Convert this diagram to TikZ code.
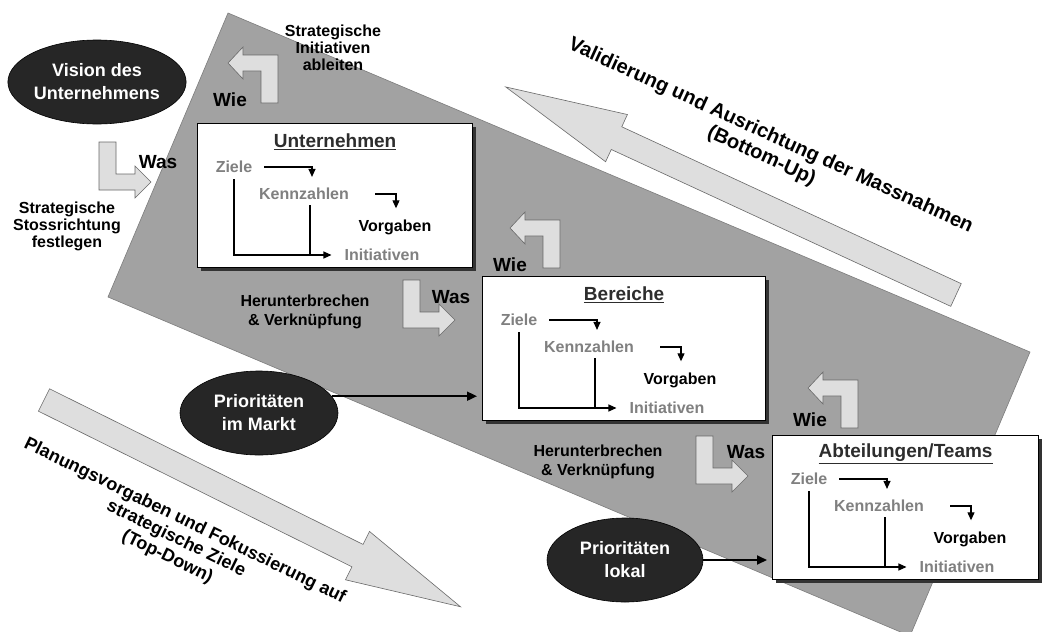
\documentclass[tikz,border=0pt]{standalone}
\usepackage{fontspec}
\setmainfont{Liberation Sans}
\usetikzlibrary{shapes.geometric,arrows.meta,shadows,calc}
\definecolor{bandgray}{RGB}{162,162,162}
\definecolor{bandedge}{RGB}{125,125,125}
\definecolor{arrowfill}{RGB}{222,222,222}
\definecolor{arrowedge}{RGB}{105,105,105}
\definecolor{ovalfill}{RGB}{38,38,38}
\definecolor{itemgray}{RGB}{128,128,128}
\definecolor{titlecol}{RGB}{45,45,45}
\tikzset{
  band/.style={fill=bandgray, draw=bandedge, line width=0.6pt},
  bigarrow/.style={fill=arrowfill, draw=arrowedge, line width=0.6pt},
  bentarrow/.style={fill=arrowfill, draw=arrowedge, line width=0.6pt},
  lbl/.style={align=center, inner sep=0pt, font=\bfseries\fontsize{16}{17}\selectfont},
  ww/.style={inner sep=0pt, font=\bfseries\fontsize{19}{21}\selectfont},
  bigtext/.style={align=center, inner sep=0pt, font=\bfseries\fontsize{20}{22}\selectfont},
  oval/.style={ellipse, fill=ovalfill, draw=black, line width=0.6pt, text=white, align=center, inner sep=0pt, font=\bfseries\fontsize{18}{23}\selectfont},
  lvbox/.style={draw=black, line width=1.2pt, fill=white, anchor=north west, minimum height=144, inner sep=0pt,
    general shadow={fill=black!80, shadow xshift=3pt, shadow yshift=-3pt}},
  boxtitle/.style={inner sep=1pt, text=titlecol, font=\bfseries\fontsize{19}{21}\selectfont},
  item/.style={inner sep=1pt, text=itemgray, font=\bfseries\fontsize{16}{18}\selectfont},
  innerarrow/.style={line width=1.1pt, -{Triangle[length=8pt,width=7pt]}},
  innerline/.style={line width=1.1pt},
  link/.style={line width=1.8pt, -{Triangle[length=10pt,width=9pt]}, shorten >=5pt}
}
\newcommand\levelbox[5]{%
  \node[lvbox, minimum width=#4] (#1) at (#2,#3) {};
  \node[boxtitle] (#1-t) at ($(#1.north)+(0,19)$) {\underline{#5}};
  \node[item] (#1-z) at ($(#1.north west)+(37,44)$) {Ziele};
  \node[item] (#1-k) at ($(#1.north west)+(107,71)$) {Kennzahlen};
  \node[item, text=black] (#1-v) at ($(#1.north west)+(198,104)$) {Vorgaben};
  \node[item] (#1-i) at ($(#1.north west)+(185,132)$) {Initiativen};
  \draw[innerarrow] ($(#1-z.east)+(11,0)$) -| ($(#1-k.north)+(8,-10)$);
  \draw[innerarrow] ($(#1-k.east)+(25,0)$) -| ($(#1-v.north)+(1,-10)$);
  \coordinate (#1-zd) at ($(#1-z.south)+(0,5)$);
  \coordinate (#1-kd) at ($(#1-k.south)+(6,4)$);
  \draw[innerarrow] (#1-zd) |- ($(#1-i.west)+(-12,0)$);
  \draw[innerline] (#1-kd) -- (#1-kd |- #1-i.west);
}
\newcommand\wieshape[1]{%
  \draw[bentarrow, shift={#1}] (0,16) -- (15,0) -- (15,8) -- (50,8) -- (50,56) -- (33,56) -- (33,24) -- (15,24) -- (15,32) -- cycle;}
\newcommand\wasshape[1]{%
  \draw[bentarrow, shift={#1}] (52,40) -- (36,56) -- (36,48) -- (0,48) -- (0,0) -- (17,0) -- (17,32) -- (36,32) -- (36,24) -- cycle;}
\begin{document}
\begin{tikzpicture}[x=1pt,y=-1pt]
\clip (0,0) rectangle (1042,632);
\fill[white] (0,0) rectangle (1042,632);
% grey band
\draw[band] (228,13) -- (1030,352) -- (910,636) -- (108,297) -- cycle;
% big arrows
\begin{scope}[shift={(956,295)}, rotate=155.2]
  \draw[bigarrow] (0,-12.5) -- (374,-12.5) -- (374,-26) -- (496,0) -- (374,26) -- (374,12.5) -- (0,12.5) -- cycle;
\end{scope}
\begin{scope}[shift={(44,400)}, rotate=-26.4]
  \draw[bigarrow] (0,-12.5) -- (350,-12.5) -- (350,-27) -- (465,0) -- (350,27) -- (350,12.5) -- (0,12.5) -- cycle;
\end{scope}
\node[bigtext, rotate=-24.6] (bu) at (766,146) {Validierung und Ausrichtung der Massnahmen\\(Bottom-Up)};
\node[bigtext, rotate=-26, font=\bfseries\fontsize{18}{20}\selectfont] (td) at (176,539) {Planungsvorgaben und Fokussierung auf\\strategische Ziele\\(Top-Down)};
% level boxes
\levelbox{u}{197}{123}{275}{Unternehmen}
\levelbox{b}{482}{276}{283}{Bereiche}
\levelbox{a}{772}{435}{266}{Abteilungen/Teams}
% bent arrows
\wieshape{(228,47)}
\wieshape{(510,212)}
\wieshape{(808,372)}
\wasshape{(99,142)}
\wasshape{(403,280)}
\wasshape{(696,436)}
% labels
\node[ww] (wie1) at (230,100) {Wie};
\node[ww] (wie2) at (510,265) {Wie};
\node[ww] (wie3) at (810,420) {Wie};
\node[ww] (was1) at (158,162) {Was};
\node[ww] (was2) at (451,297) {Was};
\node[ww] (was3) at (746,452) {Was};
\node[lbl] (si) at (333,48) {Strategische\\Initiativen\\ableiten};
\node[lbl] (ss) at (67,226) {Strategische\\Stossrichtung\\festlegen};
\node[lbl, font=\bfseries\fontsize{16}{19}\selectfont] (h1) at (305,312) {Herunterbrechen\\\& Verknüpfung};
\node[lbl, font=\bfseries\fontsize{16}{19}\selectfont] (h2) at (598,462) {Herunterbrechen\\\& Verknüpfung};
% ellipses
\node[oval, minimum width=174, minimum height=84] (vision) at (97,82) {Vision des\\Unternehmens};
\node[oval, minimum width=158, minimum height=84] (pm) at (259,413) {Prioritäten\\im Markt};
\node[oval, minimum width=156, minimum height=84] (pl) at (625,560) {Prioritäten\\lokal};
% connectors
\draw[link] (pm.13) -- (pm.13 -| b.west);
\draw[link] (pl.east) -- (pl.east -| a.west);
\end{tikzpicture}
\end{document}
